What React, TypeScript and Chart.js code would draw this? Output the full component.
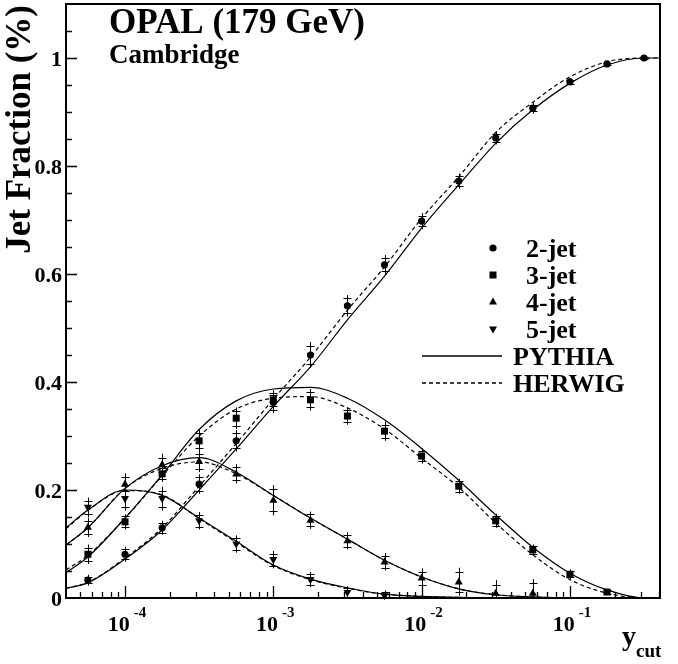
import React, { useEffect, useRef } from 'react';
import { Chart, registerables } from 'chart.js';
Chart.register(...registerables);

// ---- measured data points (y_cut values) ----
const yCut = [5.62e-5, 1e-4, 1.78e-4, 3.16e-4, 5.62e-4, 1e-3, 1.78e-3, 3.16e-3, 5.62e-3, 1e-2, 1.78e-2, 3.16e-2, 5.62e-2, 0.1, 0.178, 0.316];

const jet2 = [0.033, 0.081, 0.130, 0.211, 0.291, 0.362, 0.450, 0.541, 0.617, 0.698, 0.772, 0.852, 0.907, 0.956, 0.989, 1.0];
const jet2Tot = [0.010, 0.014, 0.013, 0.018, 0.020, 0.020, 0.024, 0.020, 0.018, 0.015, 0.014, 0.012, 0.010, 0.007, 0.004, 0.002];
const jet2Stat = [0.006, 0.009, 0.009, 0.013, 0.014, 0.014, 0.016, 0.014, 0.012, 0.010, 0.009, 0.008, 0.006, 0.004, 0.002, 0.001];

const jet3 = [0.081, 0.141, 0.230, 0.291, 0.333, 0.367, 0.367, 0.337, 0.309, 0.263, 0.207, 0.143, 0.089, 0.044, 0.011];
const jet3Tot = [0.018, 0.014, 0.015, 0.020, 0.020, 0.018, 0.020, 0.016, 0.018, 0.014, 0.014, 0.013, 0.010, 0.009, 0.004];
const jet3Stat = [0.012, 0.010, 0.010, 0.014, 0.014, 0.012, 0.014, 0.011, 0.012, 0.010, 0.010, 0.009, 0.007, 0.006, 0.003];

const jet4 = [0.131, 0.211, 0.247, 0.253, 0.230, 0.181, 0.144, 0.106, 0.067, 0.037, 0.030, 0.009, 0.009];
const jet4Tot = [0.018, 0.020, 0.020, 0.020, 0.018, 0.028, 0.016, 0.016, 0.016, 0.018, 0.026, 0.024, 0.026];
const jet4Stat = [0.012, 0.013, 0.013, 0.014, 0.012, 0.020, 0.011, 0.011, 0.011, 0.012, 0.018, 0.016, 0.018];

const jet5 = [0.168, 0.184, 0.184, 0.143, 0.100, 0.071, 0.034, 0.010, 0.004];
const jet5Tot = [0.018, 0.022, 0.022, 0.016, 0.016, 0.016, 0.014, 0.012, 0.010];
const jet5Stat = [0.012, 0.015, 0.015, 0.011, 0.011, 0.011, 0.010, 0.008, 0.007];

// ---- Monte Carlo curves ----
const curveX = [4e-5, 5.62e-5, 1e-4, 1.78e-4, 3.16e-4, 5.62e-4, 1e-3, 1.78e-3, 3.16e-3, 5.62e-3, 1e-2, 1.78e-2, 3.16e-2, 5.62e-2, 0.1, 0.178, 0.316, 0.405];

const py2 = [0.018, 0.028, 0.072, 0.126, 0.200, 0.276, 0.355, 0.428, 0.515, 0.596, 0.685, 0.765, 0.842, 0.904, 0.953, 0.987, 1.0, 1.0];
const hw2 = [0.018, 0.029, 0.074, 0.130, 0.207, 0.286, 0.368, 0.446, 0.533, 0.613, 0.703, 0.780, 0.862, 0.918, 0.965, 0.993, 1.0, 1.0];
const py3 = [0.047, 0.076, 0.148, 0.228, 0.312, 0.365, 0.387, 0.390, 0.370, 0.330, 0.277, 0.218, 0.154, 0.094, 0.046, 0.015, 0.0, 0.0];
const hw3 = [0.052, 0.079, 0.148, 0.226, 0.300, 0.350, 0.370, 0.373, 0.352, 0.313, 0.259, 0.205, 0.139, 0.080, 0.034, 0.009, 0.0, 0.0];
const py4 = [0.098, 0.130, 0.203, 0.245, 0.260, 0.233, 0.190, 0.148, 0.109, 0.070, 0.039, 0.017, 0.006, 0.002, 0.0, 0.0, 0.0, 0.0];
const hw4 = [0.098, 0.130, 0.203, 0.240, 0.252, 0.230, 0.190, 0.148, 0.109, 0.070, 0.039, 0.017, 0.006, 0.002, 0.0, 0.0, 0.0, 0.0];
const py5 = [0.130, 0.163, 0.200, 0.190, 0.148, 0.105, 0.061, 0.035, 0.019, 0.007, 0.003, 0.001, 0.0, 0.0, 0.0, 0.0, 0.0, 0.0];
const hw5 = [0.128, 0.162, 0.199, 0.191, 0.147, 0.103, 0.060, 0.034, 0.018, 0.007, 0.003, 0.001, 0.0, 0.0, 0.0, 0.0, 0.0, 0.0];

// ---- axis / text ----
const yTickLabels = ['0', '0.2', '0.4', '0.6', '0.8', '1'];
const yTickValues = [0, 0.2, 0.4, 0.6, 0.8, 1.0];
const xDecades = [-4, -3, -2, -1];
const legendJets = ['2-jet', '3-jet', '4-jet', '5-jet'];
const legendModels = ['PYTHIA', 'HERWIG'];
const titleMain = 'OPAL (179 GeV)';
const titleSub = 'Cambridge';
const yTitle = 'Jet Fraction (%)';

const FONT = '"Liberation Serif", "Times New Roman", serif';
const DASH = [4, 3];

function pts(xs: number[], ys: number[]) {
  return ys.map((y, i) => ({ x: xs[i], y }));
}

function drawMarker(ctx: CanvasRenderingContext2D, style: string, x: number, y: number) {
  ctx.save();
  ctx.fillStyle = '#000';
  ctx.beginPath();
  if (style === 'circle') {
    ctx.arc(x, y, 3.6, 0, Math.PI * 2);
  } else if (style === 'rect') {
    ctx.rect(x - 3.5, y - 3.5, 7, 7);
  } else if (style === 'up') {
    ctx.moveTo(x, y - 4.5);
    ctx.lineTo(x + 4, y + 2.6);
    ctx.lineTo(x - 4, y + 2.6);
    ctx.closePath();
  } else {
    ctx.moveTo(x, y + 4.5);
    ctx.lineTo(x + 4, y - 2.6);
    ctx.lineTo(x - 4, y - 2.6);
    ctx.closePath();
  }
  ctx.fill();
  ctx.restore();
}

const markerStyles = ['circle', 'rect', 'up', 'down'];

const decorPlugin = {
  id: 'decor',
  beforeDatasetsDraw(chart: any) {
    const ctx: CanvasRenderingContext2D = chart.ctx;
    const ys = chart.scales.y;
    ctx.save();
    ctx.strokeStyle = '#000';
    ctx.lineWidth = 1;
    chart.data.datasets.forEach((ds: any, i: number) => {
      if (!ds.errTot) return;
      const meta = chart.getDatasetMeta(i);
      meta.data.forEach((el: any, j: number) => {
        const v = ds.data[j].y;
        const tot = ds.errTot[j];
        const st = ds.errStat[j];
        const x = Math.round(el.x) + 0.5;
        const yTop = ys.getPixelForValue(v + tot);
        const yBot = ys.getPixelForValue(Math.max(0, v - tot));
        ctx.beginPath();
        ctx.moveTo(x, yTop);
        ctx.lineTo(x, yBot);
        const s1 = Math.round(ys.getPixelForValue(v + st)) + 0.5;
        const s2 = Math.round(ys.getPixelForValue(v - st)) + 0.5;
        ctx.moveTo(x - 4, s1);
        ctx.lineTo(x + 4, s1);
        if (v - st > 0) {
          ctx.moveTo(x - 4, s2);
          ctx.lineTo(x + 4, s2);
        }
        ctx.stroke();
      });
    });
    ctx.restore();
  },
  afterDatasetsDraw(chart: any) {
    const ctx: CanvasRenderingContext2D = chart.ctx;
    chart.data.datasets.forEach((ds: any, i: number) => {
      if (!ds.marker) return;
      const meta = chart.getDatasetMeta(i);
      meta.data.forEach((el: any) => drawMarker(ctx, ds.marker, el.x, el.y));
    });
  },
  afterDraw(chart: any) {
    const ctx: CanvasRenderingContext2D = chart.ctx;
    const { left, right, top, bottom } = chart.chartArea;
    const xs = chart.scales.x;
    const ys = chart.scales.y;
    ctx.save();
    // frame
    ctx.strokeStyle = '#000';
    ctx.lineWidth = 2;
    ctx.strokeRect(left, top, right - left, bottom - top);

    // y ticks
    ctx.lineWidth = 1.3;
    ctx.beginPath();
    for (let k = 1; k < 22; k++) {
      const v = k * 0.05;
      if (v >= 1.1 - 1e-9) break;
      const py = Math.round(ys.getPixelForValue(v)) + 0.5;
      const major = k % 4 === 0;
      ctx.moveTo(left, py);
      ctx.lineTo(left + (major ? 11 : 6), py);
    }
    // x ticks
    const xmin = xs.min, xmax = xs.max;
    for (let d = -5; d <= 0; d++) {
      for (let m = 1; m <= 9; m++) {
        const v = m * Math.pow(10, d);
        if (v <= xmin * 1.01 || v >= xmax * 0.99) continue;
        const px = Math.round(xs.getPixelForValue(v)) + 0.5;
        ctx.moveTo(px, bottom);
        ctx.lineTo(px, bottom - (m === 1 ? 12 : 6));
      }
    }
    ctx.stroke();

    // y tick labels
    ctx.fillStyle = '#000';
    ctx.font = `bold 22px ${FONT}`;
    ctx.textAlign = 'right';
    ctx.textBaseline = 'alphabetic';
    yTickValues.forEach((v, i) => {
      const py = ys.getPixelForValue(v);
      ctx.fillText(yTickLabels[i], 62, py + 8);
    });

    // x tick labels: 10^n
    xDecades.forEach((d) => {
      const px = xs.getPixelForValue(Math.pow(10, d));
      ctx.font = `bold 22px ${FONT}`;
      const w10 = ctx.measureText('10').width;
      ctx.font = `bold 15px ${FONT}`;
      const exp = String(d);
      const we = ctx.measureText(exp).width;
      const total = w10 + 4 + we;
      const x0 = px - total / 2 + 2;
      ctx.textAlign = 'left';
      ctx.font = `bold 22px ${FONT}`;
      ctx.fillText('10', x0, 631);
      ctx.font = `bold 15px ${FONT}`;
      ctx.fillText(exp, x0 + w10 + 4, 617);
    });

    // x axis title y_cut
    ctx.textAlign = 'left';
    ctx.font = `bold 28px ${FONT}`;
    ctx.fillText('y', 622, 645);
    ctx.font = `bold 19px ${FONT}`;
    ctx.fillText('cut', 636, 657);

    // y axis title
    ctx.save();
    ctx.translate(30, 5);
    ctx.rotate(-Math.PI / 2);
    ctx.font = `bold 35px ${FONT}`;
    ctx.textAlign = 'right';
    ctx.fillText(yTitle, 0, 0);
    ctx.restore();

    // header texts
    ctx.textAlign = 'left';
    ctx.font = `bold 35px ${FONT}`;
    ctx.fillText(titleMain, 109, 33);
    ctx.font = `bold 27px ${FONT}`;
    ctx.fillText(titleSub, 109, 63);

    // legend
    ctx.font = `bold 26px ${FONT}`;
    legendJets.forEach((t, i) => {
      const yb = 257 + i * 27;
      drawMarker(ctx, markerStyles[i], 493, yb - 9);
      ctx.fillText(t, 526, yb);
    });
    legendModels.forEach((t, i) => {
      const yb = 365 + i * 27;
      ctx.beginPath();
      ctx.lineWidth = 1.3;
      ctx.setLineDash(i === 0 ? [] : DASH);
      ctx.moveTo(422, yb - 9);
      ctx.lineTo(502, yb - 9);
      ctx.stroke();
      ctx.setLineDash([]);
      ctx.fillText(t, 513, yb);
    });
    ctx.restore();
  },
};

export default function App() {
  const ref = useRef<HTMLCanvasElement | null>(null);
  useEffect(() => {
    document.body.style.margin = '0';
    const canvas = ref.current;
    if (!canvas) return;
    const curve = (d: number[], dashed: boolean) => ({
      data: pts(curveX, d),
      showLine: true,
      borderColor: '#000',
      borderWidth: 1.2,
      borderDash: dashed ? DASH : [],
      pointRadius: 0,
      cubicInterpolationMode: 'monotone',
      fill: false,
      clip: 0,
    });
    const points = (d: number[], tot: number[], st: number[], marker: string) => ({
      data: pts(yCut, d),
      showLine: false,
      pointRadius: 0,
      marker,
      errTot: tot,
      errStat: st,
      clip: false,
    });
    const chart = new Chart(canvas, {
      type: 'scatter',
      data: {
        datasets: [
          curve(py2, false), curve(hw2, true),
          curve(py3, false), curve(hw3, true),
          curve(py4, false), curve(hw4, true),
          curve(py5, false), curve(hw5, true),
          points(jet2, jet2Tot, jet2Stat, 'circle'),
          points(jet3, jet3Tot, jet3Stat, 'rect'),
          points(jet4, jet4Tot, jet4Stat, 'up'),
          points(jet5, jet5Tot, jet5Stat, 'down'),
        ] as any,
      },
      options: {
        responsive: false,
        animation: false,
        events: [],
        layout: { padding: { left: 66, top: 4, right: 18, bottom: 66 } },
        plugins: { legend: { display: false }, tooltip: { enabled: false } },
        scales: {
          x: { type: 'logarithmic', min: 4e-5, max: 0.405, display: false },
          y: { type: 'linear', min: 0, max: 1.1, display: false },
        },
      } as any,
      plugins: [decorPlugin],
    });
    return () => chart.destroy();
  }, []);
  return (
    <div style={{ width: 678, height: 664, background: '#fff' }}>
      <canvas ref={ref} width={678} height={664} style={{ display: 'block' }} />
    </div>
  );
}
